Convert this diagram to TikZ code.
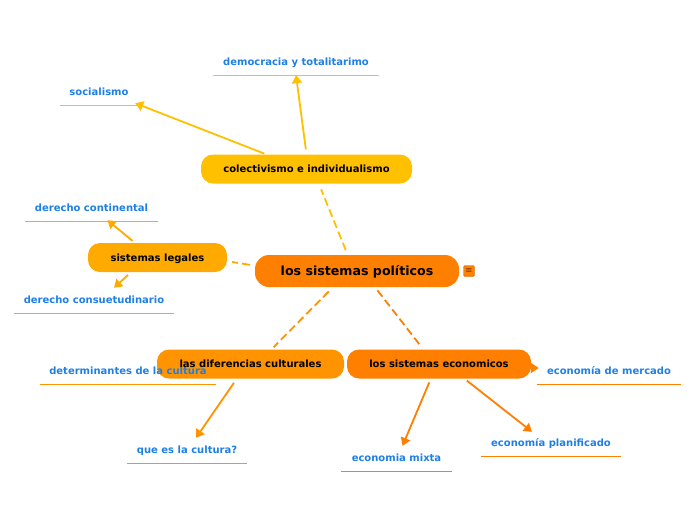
\documentclass[tikz,border=0pt]{standalone}
\usepackage{fontspec}
\setmainfont{DejaVu Sans}
\usetikzlibrary{arrows.meta,calc}

\definecolor{cMain}{HTML}{FF7F00}
\definecolor{cYel}{HTML}{FFC000}
\definecolor{cLeg}{HTML}{FFAA00}
\definecolor{cDif}{HTML}{FF9300}
\definecolor{cEco}{HTML}{FF7F00}
\definecolor{cLeaf}{HTML}{1E7FE4}

\begin{document}
\begin{tikzpicture}[x=1pt, y=-1pt,
  topic/.style={rounded corners=12pt, inner sep=0pt, minimum height=29pt,
    text height=7.5pt, text depth=0pt,
    font=\fontsize{10}{12}\selectfont\bfseries},
  leaf/.style={inner sep=0pt, minimum height=26pt, text=cLeaf,
    text height=7.5pt, text depth=0pt,
    font=\fontsize{10}{12}\selectfont\bfseries},
  link/.style={line width=1.8pt, dash pattern=on 8pt off 4pt},
  arr/.style={line width=1.8pt, -{Triangle[length=8pt,width=10pt]}},
  uline/.style={line width=1.3pt}]

  \useasboundingbox (0,0) rectangle (696,520);

  % --- central topic ---
  \node[topic, fill=cMain, rounded corners=14pt, minimum width=204pt,
    minimum height=32pt, text height=9.5pt,
    font=\fontsize{12.6}{15}\selectfont\bfseries]
    (main) at (357,271) {los sistemas políticos};
  \node[fill=cMain, draw=cMain!80!black, line width=0.4pt, rounded corners=1.5pt,
    minimum size=11pt, inner sep=0pt, font=\fontsize{8}{8}\selectfont]
    (menu) at (469,271) {$\equiv$};

  % --- subtopics ---
  \node[topic, fill=cYel, minimum width=211pt] (colect) at (306.5,169)
    {colectivismo e individualismo};
  \node[topic, fill=cLeg, minimum width=139pt] (legales) at (157.5,257.5)
    {sistemas legales};
  \node[topic, fill=cDif, minimum width=187pt] (dif) at (250.5,364) {};
  \node[topic, fill=cEco, minimum width=184pt] (eco) at (439,364)
    {los sistemas economicos};

  % dashed links from the centre
  \draw[link, cYel, shorten <=5pt, shorten >=6pt] (main.120) -- (colect.310);
  \draw[link, cLeg, shorten <=5pt, shorten >=5pt] (main.177) -- (legales.357);
  \draw[link, cDif, shorten <=6pt, shorten >=3pt] (main.214) -- (dif.35);
  \draw[link, cEco, shorten <=4pt, shorten >=3pt] (main.318) -- (eco.137);

  % --- colectivismo e individualismo ---
  \node[leaf, minimum width=166pt] (dem) at (296,62) {democracia y totalitarimo};
  \node[leaf, minimum width=78pt] (soc) at (99,92) {socialismo};
  \draw[uline, cYel] (dem.south west) -- (dem.south east);
  \draw[uline, cYel] (soc.south west) -- (soc.south east);
  \draw[arr, cYel, shorten <=5pt] (colect.north) -- (dem.south);
  \draw[arr, cYel, shorten <=2pt] (colect.160) -- ($(soc.south east)+(-3,-2)$);

  % --- sistemas legales ---
  \node[leaf, minimum width=133pt] (cont) at (91.5,208) {derecho continental};
  \node[leaf, minimum width=160pt] (cons) at (94,300) {derecho consuetudinario};
  \draw[uline, cLeg] (cont.south west) -- (cont.south east);
  \draw[uline, cLeg] (cons.south west) -- (cons.south east);
  \draw[arr, cLeg, shorten <=3pt] (legales.147) -- ($(cont.south)+(16,-1)$);
  \draw[arr, cLeg, shorten <=4pt] (legales.209) -- ($(cons.north)+(20,1)$);

  % --- las diferencias culturales ---
  \node[leaf, minimum width=176pt] (det) at (128,371) {determinantes de la cultura};
  \node[leaf, minimum width=120pt] (que) at (187,450) {que es la cultura?};
  \draw[uline, cDif] (det.south west) -- (det.south east);
  \draw[uline, cDif] (que.south west) -- (que.south east);
  \draw[arr, cDif, shorten <=5pt] (dif.227) -- ($(que.north)+(9,1)$);
  \node[font=\fontsize{10}{12}\selectfont\bfseries, text height=7.5pt,
    text depth=0pt] (diflabel) at (dif) {las diferencias culturales};

  % --- los sistemas economicos ---
  \node[leaf, minimum width=144pt] (merc) at (609,371) {economía de mercado};
  \node[leaf, minimum width=140pt] (plan) at (551,443) {economía planificado};
  \node[leaf, minimum width=111pt] (mixta) at (396.5,458) {economia mixta};
  \draw[uline, cEco] (merc.south west) -- (merc.south east);
  \draw[uline, cEco] (plan.south west) -- (plan.south east);
  \draw[uline, cEco] (mixta.south west) -- (mixta.south east);
  \draw[arr, cEco] ($(eco.east)+(-3,4)$) -- ($(merc.west)+(2,-3)$);
  \draw[arr, cEco, shorten <=4pt] (eco.241) -- ($(mixta.north)+(6,1)$);
  \draw[arr, cEco, shorten <=3pt] (eco.330) -- ($(plan.north)+(-19,2)$);

\end{tikzpicture}
\end{document}
